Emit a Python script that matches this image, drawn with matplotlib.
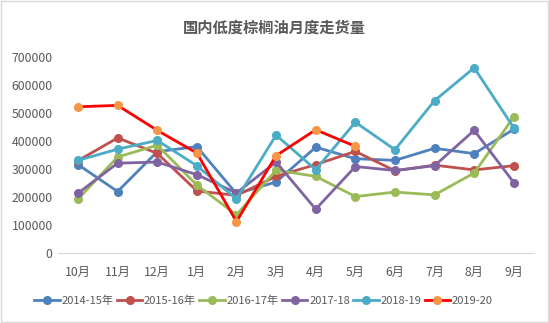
import matplotlib
matplotlib.use('Agg')
import matplotlib.pyplot as plt
from matplotlib.patches import Rectangle

plt.rcParams['font.family'] = ['Noto Sans CJK SC', 'DejaVu Sans']

months = ['10月', '11月', '12月', '1月', '2月', '3月', '4月', '5月', '6月', '7月', '8月', '9月']

# monthly volumes (tonnes) per season
s2014_15 = [316000, 220000, 362000, 380000, 212000, 254000, 378000, 337000, 331000, 374000, 355000, 442000]
s2015_16 = [330000, 411000, 356000, 222000, 206000, 274000, 316000, 363000, 294000, 314000, 297000, 312000]
s2016_17 = [193000, 343000, 385000, 243000, 137000, 296000, 274000, 202000, 218000, 208000, 286000, 486000]
s2017_18 = [214000, 321000, 325000, 280000, 215000, 325000, 157000, 309000, 295000, 312000, 438000, 252000]
s2018_19 = [331000, 371000, 402000, 312000, 193000, 421000, 298000, 467000, 369000, 544000, 661000, 447000]
s2019_20 = [522000, 527000, 438000, 357000, 113000, 348000, 440000, 381000]

series = [
    ('2014-15年', s2014_15, '#4F81BD', '#4F81BD'),
    ('2015-16年', s2015_16, '#C0504D', '#C0504D'),
    ('2016-17年', s2016_17, '#9BBB59', '#9BBB59'),
    ('2017-18', s2017_18, '#8064A2', '#8064A2'),
    ('2018-19', s2018_19, '#4BACC6', '#4BACC6'),
    ('2019-20', s2019_20, '#FF0000', '#F79646'),
]

fig = plt.figure(figsize=(5.49, 3.23), dpi=100)
ax = fig.add_axes([0.106, 0.216, 0.866, 0.608])

for i, (name, vals, color, mcolor) in enumerate(series):
    x = list(range(len(vals)))
    ax.plot(x, vals, color=color, lw=2.0, marker='o', markersize=5.5,
            markerfacecolor=mcolor, markeredgecolor=mcolor, label=name, zorder=3 + i)

ax.set_xlim(-0.5, 11.5)
ax.set_ylim(0, 700000)
ax.set_yticks(range(0, 700001, 100000))
ax.set_xticks(range(len(months)))
ax.set_xticklabels(months)
ax.tick_params(axis='both', length=0, labelsize=8.8, colors='#595959')
ax.tick_params(axis='y', pad=4)
ax.tick_params(axis='x', pad=9)
for side in ['top', 'right', 'left']:
    ax.spines[side].set_visible(False)
ax.spines['bottom'].set_color('#D9D9D9')
ax.spines['bottom'].set_linewidth(0.8)

fig.text(0.5, 0.915, '国内低度棕榈油月度走货量', ha='center', va='center',
         fontsize=11, fontweight='bold', color='#595959')

ax.legend(loc='center', bbox_to_anchor=(0.432, -0.24), ncol=6, frameon=False,
          fontsize=8, handlelength=2.3, handletextpad=0.15, columnspacing=0.3,
          labelcolor='#595959')

# outer chart border
fig.patches.append(Rectangle((0.002, 0.003), 0.996, 0.994, transform=fig.transFigure,
                             fill=False, edgecolor='#D9D9D9', lw=1.0))

fig.savefig('out.png', dpi=100)
